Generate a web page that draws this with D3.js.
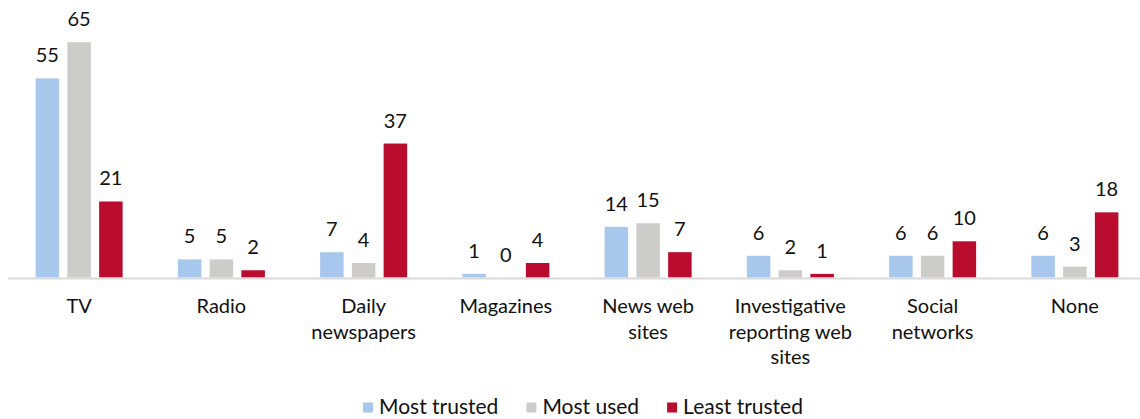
<!DOCTYPE html>
<html>
<head>
<meta charset="utf-8">
<script src="https://cdn.jsdelivr.net/npm/d3@7/dist/d3.min.js"></script>
<style>
  html, body { margin: 0; padding: 0; background: #fff; }
  svg { display: block; }
  text { font-family: "Lato", "Open Sans", sans-serif; fill: #111; }
</style>
</head>
<body>
<svg id="chart" width="1140" height="419"></svg>
<script>
// Media sources, one group per category (line breaks mark label wrapping)
const categories = [
  "TV",
  "Radio",
  "Daily\nnewspapers",
  "Magazines",
  "News web\nsites",
  "Investigative\nreporting web\nsites",
  "Social\nnetworks",
  "None"
];

const seriesNames = ["Most trusted", "Most used", "Least trusted"];
const seriesColors = ["#a8c7ec", "#cdccc8", "#ba0c2f"];

// Percent of respondents per category
const mostTrusted  = [55, 5, 7, 1, 14, 6, 6, 6];
const mostUsed     = [65, 5, 4, 0, 15, 2, 6, 3];
const leastTrusted = [21, 2, 37, 4, 7, 1, 10, 18];

const seriesValues = [mostTrusted, mostUsed, leastTrusted];

const svg = d3.select("#chart");
const baseline = 277.5;

const x0 = d3.scaleBand()
  .domain(categories)
  .range([8, 1146])
  .paddingInner(0)
  .paddingOuter(0);

const x1 = d3.scaleBand()
  .domain(seriesNames)
  .range([x0.bandwidth() / 2 - 43.5, x0.bandwidth() / 2 + 43.5])
  .paddingInner(0.26)
  .paddingOuter(0);

const y = d3.scaleLinear()
  .domain([0, 65])
  .range([baseline, baseline - 235.3]);

const rows = categories.map((c, i) => ({
  category: c,
  values: seriesNames.map((s, j) => ({ series: s, value: seriesValues[j][i], color: seriesColors[j] }))
}));

const groups = svg.append("g")
  .selectAll("g")
  .data(rows)
  .join("g")
  .attr("transform", d => `translate(${x0(d.category)},0)`);

groups.selectAll("rect")
  .data(d => d.values)
  .join("rect")
  .attr("x", d => x1(d.series))
  .attr("width", x1.bandwidth())
  .attr("y", d => y(d.value))
  .attr("height", d => baseline - y(d.value))
  .attr("fill", d => d.color);

groups.selectAll("text.value")
  .data(d => d.values)
  .join("text")
  .attr("class", "value")
  .attr("x", d => x1(d.series) + x1.bandwidth() / 2)
  .attr("y", d => y(d.value) - 16)
  .attr("text-anchor", "middle")
  .attr("font-size", 20)
  .text(d => d.value);

// Horizontal category axis line
svg.append("line")
  .attr("x1", 8).attr("x2", 1140)
  .attr("y1", baseline + 1).attr("y2", baseline + 1)
  .attr("stroke", "#d9d9d9")
  .attr("stroke-width", 2);

// Category labels, wrapped onto several lines
const catLabels = svg.append("g")
  .selectAll("text")
  .data(categories)
  .join("text")
  .attr("class", "cat")
  .attr("text-anchor", "middle")
  .attr("font-size", 20)
  .attr("x", d => x0(d) + x0.bandwidth() / 2)
  .attr("y", 313);

catLabels.selectAll("tspan")
  .data(d => d.split("\n"))
  .join("tspan")
  .attr("x", function () { return d3.select(this.parentNode).attr("x"); })
  .attr("dy", (d, i) => i === 0 ? 0 : 25.5)
  .text(d => d);

// Legend
const legend = svg.append("g").attr("transform", "translate(0,414)");
const items = legend.selectAll("g")
  .data(seriesNames.map((s, i) => ({ name: s, color: seriesColors[i] })))
  .join("g");

items.append("rect")
  .attr("y", -11.5)
  .attr("width", 10)
  .attr("height", 10)
  .attr("fill", d => d.color);

items.append("text")
  .attr("x", 16)
  .attr("font-size", 21)
  .text(d => d.name);

let cursor = 0;
const offsets = [];
items.each(function () {
  const w = this.getBBox().width;
  offsets.push(cursor);
  cursor += w + 28;
});
const start = 363;
items.attr("transform", (d, i) => `translate(${start + offsets[i]},0)`);
</script>
</body>
</html>
